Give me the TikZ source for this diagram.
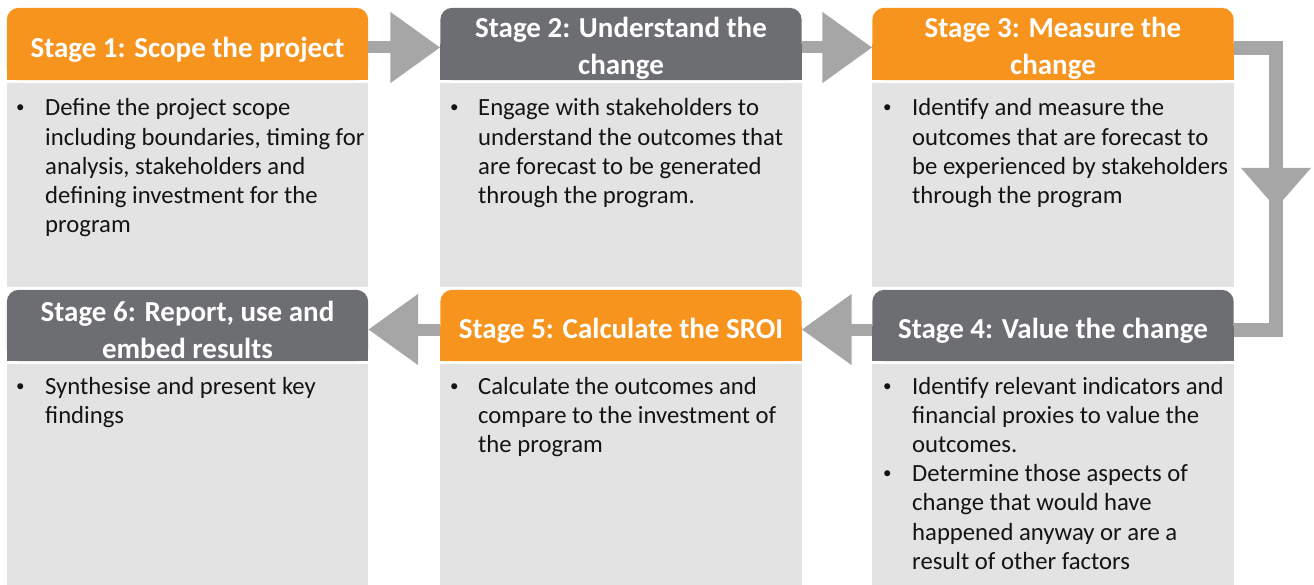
\documentclass[tikz,border=0pt]{standalone}
\usepackage{fontspec}
\setmainfont{Carlito}
\usetikzlibrary{arrows.meta,backgrounds,calc}
\definecolor{orgC}{RGB}{247,148,29}
\definecolor{dgC}{RGB}{109,110,114}
\definecolor{bodyC}{RGB}{227,227,227}
\definecolor{arrC}{RGB}{166,166,166}
\definecolor{txtC}{RGB}{20,20,20}
\newcommand\mkhdr[2]{%
  \fill[#2, rounded corners=12pt] (#1.south west) rectangle (#1.north east);
  \fill[#2] (#1.south west) rectangle (#1.east);}
\newcommand\btxt[1]{\parbox[t]{420pt}{\fontsize{24.7}{29.2}\selectfont #1}}
\begin{document}
\begin{tikzpicture}[x=1pt,y=-1pt,
  hdr/.style={minimum width=361pt, minimum height=72pt, inner sep=0pt},
  htext/.style={inner sep=0pt, text=white, font=\fontsize{29}{37}\selectfont\bfseries, align=center},
  bodytext/.style={anchor=base west, inner sep=0pt, text=txtC, font=\fontsize{24.7}{29.2}\selectfont},
  bul/.style={anchor=base west, inner sep=0pt, text=txtC, font=\fontsize{17}{20}\selectfont},
  conn/.style={draw=arrC, line width=12pt},
  tip/.style={-{Triangle[length=50pt,width=68pt]}},
]
\useasboundingbox (0,0) rectangle (1314,585);

% header boxes
\node[hdr] (s1) at (187.5,44) {};
\node[hdr] (s2) at (621,44) {};
\node[hdr] (s3) at (1053,44) {};
\node[hdr, minimum height=71pt] (s4) at (1053,325.5) {};
\node[hdr, minimum height=71pt] (s5) at (621,325.5) {};
\node[hdr, minimum height=71pt] (s6) at (187.5,325.5) {};

\begin{scope}[on background layer]
  \mkhdr{s1}{orgC}
  \mkhdr{s2}{dgC}
  \mkhdr{s3}{orgC}
  \mkhdr{s4}{dgC}
  \mkhdr{s5}{orgC}
  \mkhdr{s6}{dgC}
  \fill[bodyC] ($(s1.south west)+(0,3)$) rectangle ($(s6.north east)+(0,-3)$);
  \fill[bodyC] ($(s2.south west)+(0,3)$) rectangle ($(s5.north east)+(0,-3)$);
  \fill[bodyC] ($(s3.south west)+(0,3)$) rectangle ($(s4.north east)+(0,-3)$);
  \fill[bodyC] ($(s6.south west)+(0,3)$) rectangle (s6.east |- 0,585);
  \fill[bodyC] ($(s5.south west)+(0,3)$) rectangle (s5.east |- 0,585);
  \fill[bodyC] ($(s4.south west)+(0,3)$) rectangle (s4.east |- 0,585);
\end{scope}

% header texts
\node[htext] (h1) at ($(s1.center)+(0,5.5)$) {Stage 1: Scope the project};
\node[htext] (h2) at ($(s2.center)+(0,4.5)$) {Stage 2: Understand the\\change};
\node[htext] (h3) at ($(s3.center)+(0,4.5)$) {Stage 3: Measure the\\change};
\node[htext] (h4) at ($(s4.center)+(0,5.5)$) {Stage 4: Value the change};
\node[htext] (h5) at ($(s5.center)+(0,5.5)$) {Stage 5: Calculate the SROI};
\node[htext] (h6) at ($(s6.center)+(0,4)$) {Stage 6: Report, use and\\embed results};

% connectors
\draw[conn, tip] ($(s1.east)+(0,3.5)$) -- ($(s2.west)+(0,3.5)$);
\draw[conn, tip] ($(s2.east)+(0,3.5)$) -- ($(s3.west)+(0,3.5)$);
\draw[conn, tip] ($(s4.west)+(0,4)$) -- ($(s5.east)+(0,4)$);
\draw[conn, tip] ($(s5.west)+(0,4)$) -- ($(s6.east)+(0,4)$);
\coordinate (rt) at (1276,48.5);
\coordinate (rb) at (1276,330);
\coordinate (mtip) at (1276,208);
\draw[conn, line width=14pt, line join=miter] ($(s3.east)+(0,4.5)$) -- (rt) -- (rb) -- ($(s4.east)+(0,4.5)$);
\fill[arrC] (mtip) -- ++(-35,-40) -- ++(70,0) -- cycle;

% body text
\node[bul] (b1) at (16,113) {•};
\node[bodytext] (t1) at (45,116) {\btxt{Define the project scope\\including boundaries, timing for\\analysis, stakeholders and\\defining investment for the\\program}};
\node[bul] (b2) at (450,113) {•};
\node[bodytext] (t2) at (478,116) {\btxt{Engage with stakeholders to\\understand the outcomes that\\are forecast to be generated\\through the program.}};
\node[bul] (b3) at (883,113) {•};
\node[bodytext] (t3) at (912,116) {\btxt{Identify and measure the\\outcomes that are forecast to\\be experienced by stakeholders\\through the program}};
\node[bul] (b6) at (16,391) {•};
\node[bodytext] (t6) at (45,394) {\btxt{Synthesise and present key\\findings}};
\node[bul] (b5) at (450,391) {•};
\node[bodytext] (t5) at (478,394) {\btxt{Calculate the outcomes and\\compare to the investment of\\the program}};
\node[bul] (b4a) at (883,391) {•};
\node[bodytext] (t4a) at (912,394) {\btxt{Identify relevant indicators and\\financial proxies to value the\\outcomes.}};
\node[bul] (b4b) at (883,478.6) {•};
\node[bodytext] (t4b) at (912,481.6) {\btxt{Determine those aspects of\\change that would have\\happened anyway or are a\\result of other factors}};
\end{tikzpicture}
\end{document}
